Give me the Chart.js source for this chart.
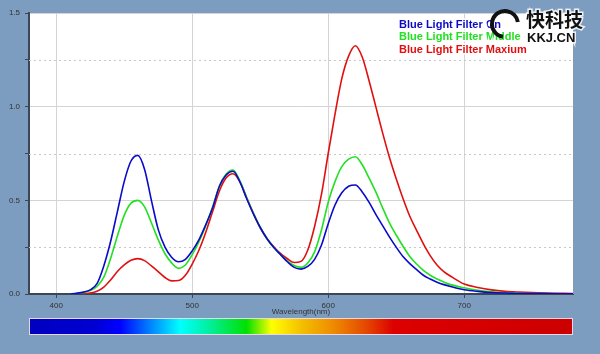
<!DOCTYPE html>
<html lang="en">
<head>
    <meta charset="UTF-8"/>
    <title>Blue Light Filter Spectrum</title>
    <script src="https://cdn.jsdelivr.net/npm/chart.js"></script>
    <style>
        html, body {
            margin: 0;
            padding: 0;
            background-color: #7c9cc0;
            width: 600px;
            height: 354px;
            overflow: hidden;
        }
        .chart-wrap {
            position: relative;
            width: 600px;
            height: 354px;
        }
    </style>
</head>
<body>
<div class="chart-wrap">
    <canvas id="spectrumChart"></canvas>
</div>

<script>
    // wavelength (nm) sample points
    const wavelengths = [
        410, 415, 420, 425, 430, 435, 440, 445, 450, 455,
        460, 465, 470, 475, 480, 485, 490, 495, 500, 505,
        510, 515, 520, 525, 530, 535, 540, 545, 550, 555,
        560, 565, 570, 575, 580, 585, 590, 595, 600, 605,
        610, 615, 620, 625, 630, 635, 640, 645, 650, 655,
        660, 665, 670, 675, 680, 685, 690, 700, 710, 720,
        730, 740, 760, 780
    ];

    const filterOn = [
        0.0, 0.004, 0.01, 0.022, 0.055, 0.15, 0.28, 0.44, 0.60, 0.71,
        0.74, 0.665, 0.50, 0.345, 0.25, 0.195, 0.172, 0.185, 0.23, 0.29,
        0.37, 0.46, 0.575, 0.635, 0.655, 0.60, 0.51, 0.428, 0.355, 0.295,
        0.248, 0.21, 0.172, 0.142, 0.133, 0.147, 0.185, 0.26, 0.375, 0.475,
        0.54, 0.575, 0.582, 0.545, 0.49, 0.425, 0.365, 0.305, 0.25, 0.20,
        0.162, 0.13, 0.10, 0.08, 0.063, 0.05, 0.04, 0.023, 0.014, 0.008,
        0.005, 0.003, 0.002, 0.001
    ];

    const filterMiddle = [
        0.0, 0.003, 0.008, 0.018, 0.04, 0.09, 0.19, 0.31, 0.42, 0.485,
        0.50, 0.465, 0.38, 0.29, 0.215, 0.165, 0.137, 0.155, 0.21, 0.28,
        0.365, 0.465, 0.575, 0.64, 0.662, 0.605, 0.515, 0.43, 0.355, 0.295,
        0.248, 0.21, 0.175, 0.152, 0.142, 0.165, 0.225, 0.34, 0.49, 0.60,
        0.68, 0.72, 0.733, 0.69, 0.62, 0.545, 0.46, 0.38, 0.315, 0.255,
        0.20, 0.16, 0.126, 0.10, 0.08, 0.064, 0.05, 0.033, 0.02, 0.012,
        0.007, 0.004, 0.002, 0.001
    ];

    const filterMax = [
        0.0, 0.0, 0.002, 0.005, 0.015, 0.037, 0.075, 0.12, 0.155, 0.18,
        0.189, 0.178, 0.15, 0.12, 0.088, 0.07, 0.072, 0.10, 0.16, 0.235,
        0.33, 0.44, 0.55, 0.62, 0.642, 0.60, 0.515, 0.43, 0.355, 0.297,
        0.252, 0.215, 0.188, 0.168, 0.174, 0.235, 0.36, 0.53, 0.75, 0.96,
        1.15, 1.27, 1.325, 1.265, 1.14, 1.0, 0.86, 0.73, 0.615, 0.51,
        0.415, 0.34, 0.268, 0.205, 0.155, 0.12, 0.095, 0.053, 0.035, 0.022,
        0.014, 0.01, 0.005, 0.003
    ];

    const seriesLabels = ['Blue Light Filter On', 'Blue Light Filter Middle', 'Blue Light Filter Maxium'];
    const seriesColors = ['#0a0ac8', '#22e022', '#e01010'];

    const xTicks = [400, 500, 600, 700];
    const yTicks = [0, 0.25, 0.5, 0.75, 1.0, 1.25, 1.5];

    const FONT = "'Liberation Sans', Arial, sans-serif";

    function toPoints(values) {
        return wavelengths.map((w, i) => ({ x: w, y: values[i] }));
    }

    // white plot background, right edge and dotted minor grid lines
    const plotBackground = {
        id: 'plotBackground',
        beforeDraw(chart) {
            const { ctx, chartArea: a } = chart;
            ctx.save();
            ctx.fillStyle = '#ffffff';
            ctx.fillRect(a.left, a.top, a.right - a.left, a.bottom - a.top);
            ctx.restore();
        },
        beforeDatasetsDraw(chart) {
            const { ctx, chartArea: a, scales } = chart;
            ctx.save();
            ctx.strokeStyle = '#c8c8c8';
            ctx.lineWidth = 1;
            ctx.setLineDash([2, 3]);
            yTicks.filter(v => v % 0.5 !== 0).forEach(v => {
                const y = Math.round(scales.y.getPixelForValue(v)) + 0.5;
                ctx.beginPath();
                ctx.moveTo(a.left, y);
                ctx.lineTo(a.right, y);
                ctx.stroke();
            });
            ctx.setLineDash([]);
            ctx.strokeStyle = '#8d9aab';
            ctx.beginPath();
            ctx.moveTo(a.right + 0.5, a.top);
            ctx.lineTo(a.right + 0.5, a.bottom);
            ctx.stroke();
            ctx.restore();
        }
    };

    // legend text, axis title, colour bar and watermark
    const decorations = {
        id: 'decorations',
        afterDraw(chart) {
            const { ctx, chartArea: a } = chart;
            ctx.save();

            // legend (text only, with a white halo)
            ctx.font = 'bold 11px ' + FONT;
            ctx.textAlign = 'left';
            ctx.textBaseline = 'middle';
            chart.data.datasets.forEach((ds, i) => {
                const y = 24.5 + i * 12.5;
                ctx.lineWidth = 3;
                ctx.strokeStyle = 'rgba(255,255,255,0.9)';
                ctx.strokeText(ds.label, 399, y);
                ctx.fillStyle = ds.borderColor;
                ctx.fillText(ds.label, 399, y);
            });

            // x axis title
            ctx.font = '8px ' + FONT;
            ctx.fillStyle = '#333';
            ctx.textAlign = 'center';
            ctx.fillText('Wavelength(nm)', 301, 312);

            // spectrum colour bar
            const barTop = 318, barH = 17;
            const g = ctx.createLinearGradient(a.left, 0, a.right, 0);
            g.addColorStop(0.00, '#0000c0');
            g.addColorStop(0.12, '#0000d2');
            g.addColorStop(0.167, '#0000ff');
            g.addColorStop(0.225, '#0088ff');
            g.addColorStop(0.278, '#00ffff');
            g.addColorStop(0.33, '#00f0a0');
            g.addColorStop(0.40, '#00e000');
            g.addColorStop(0.446, '#ffff00');
            g.addColorStop(0.50, '#f4c000');
            g.addColorStop(0.56, '#ee8a00');
            g.addColorStop(0.62, '#e44800');
            g.addColorStop(0.67, '#dd0000');
            g.addColorStop(1.00, '#cc0000');
            ctx.fillStyle = g;
            ctx.fillRect(a.left, barTop, a.right - a.left, barH);
            ctx.strokeStyle = '#e8d8e8';
            ctx.lineWidth = 1;
            ctx.strokeRect(a.left + 0.5, barTop + 0.5, a.right - a.left - 1, barH - 1);

            // watermark
            ctx.lineWidth = 4;
            ctx.strokeStyle = '#111';
            ctx.beginPath();
            ctx.arc(505, 24, 13, Math.PI * 0.55, Math.PI * 1.95);
            ctx.stroke();
            ctx.textAlign = 'left';
            ctx.font = 'bold 19px "Noto Sans CJK SC", sans-serif';
            ctx.lineWidth = 3;
            ctx.strokeStyle = 'rgba(255,255,255,0.85)';
            ctx.strokeText('快科技', 526, 20);
            ctx.fillStyle = '#111';
            ctx.fillText('快科技', 526, 20);
            ctx.font = 'bold 13px ' + FONT;
            ctx.strokeText('KKJ.CN', 527, 38);
            ctx.fillText('KKJ.CN', 527, 38);

            ctx.restore();
        }
    };

    const ctxSpectrum = document.getElementById('spectrumChart').getContext('2d');
    const datasets = [filterOn, filterMiddle, filterMax].map((vals, i) => ({
        label: seriesLabels[i],
        data: toPoints(vals),
        borderColor: seriesColors[i],
        backgroundColor: seriesColors[i],
        borderWidth: 1.6,
        pointRadius: 0,
        cubicInterpolationMode: 'monotone',
        fill: false
    }));

    new Chart(ctxSpectrum, {
        type: 'line',
        data: { datasets },
        options: {
            responsive: true,
            maintainAspectRatio: false,
            animation: false,
            layout: { padding: { top: 13, right: 27, left: 0, bottom: 0 } },
            scales: {
                x: {
                    type: 'linear',
                    min: 380,
                    max: 780,
                    afterBuildTicks: s => { s.ticks = xTicks.map(v => ({ value: v })); },
                    afterFit: s => { s.height = 60; },
                    grid: { color: '#d4d4d4', tickColor: '#3c4656', tickLength: 4 },
                    border: { color: '#3c4656', width: 2 },
                    ticks: { color: '#333', font: { family: FONT, size: 8 }, padding: 3, maxRotation: 0 }
                },
                y: {
                    min: 0,
                    max: 1.5,
                    afterBuildTicks: s => { s.ticks = yTicks.map(v => ({ value: v })); },
                    afterFit: s => { s.width = 29; },
                    grid: {
                        color: c => (c.tick && c.tick.value % 0.5 === 0) ? '#d4d4d4' : 'rgba(0,0,0,0)',
                        tickColor: '#3c4656',
                        tickLength: 4
                    },
                    border: { color: '#3c4656', width: 2 },
                    ticks: {
                        color: '#333',
                        font: { family: FONT, size: 8 },
                        padding: 5,
                        callback: v => (v % 0.5 === 0) ? v.toFixed(1) : ''
                    }
                }
            },
            plugins: {
                legend: { display: false },
                tooltip: { enabled: false }
            }
        },
        plugins: [plotBackground, decorations]
    });
</script>
</body>
</html>
